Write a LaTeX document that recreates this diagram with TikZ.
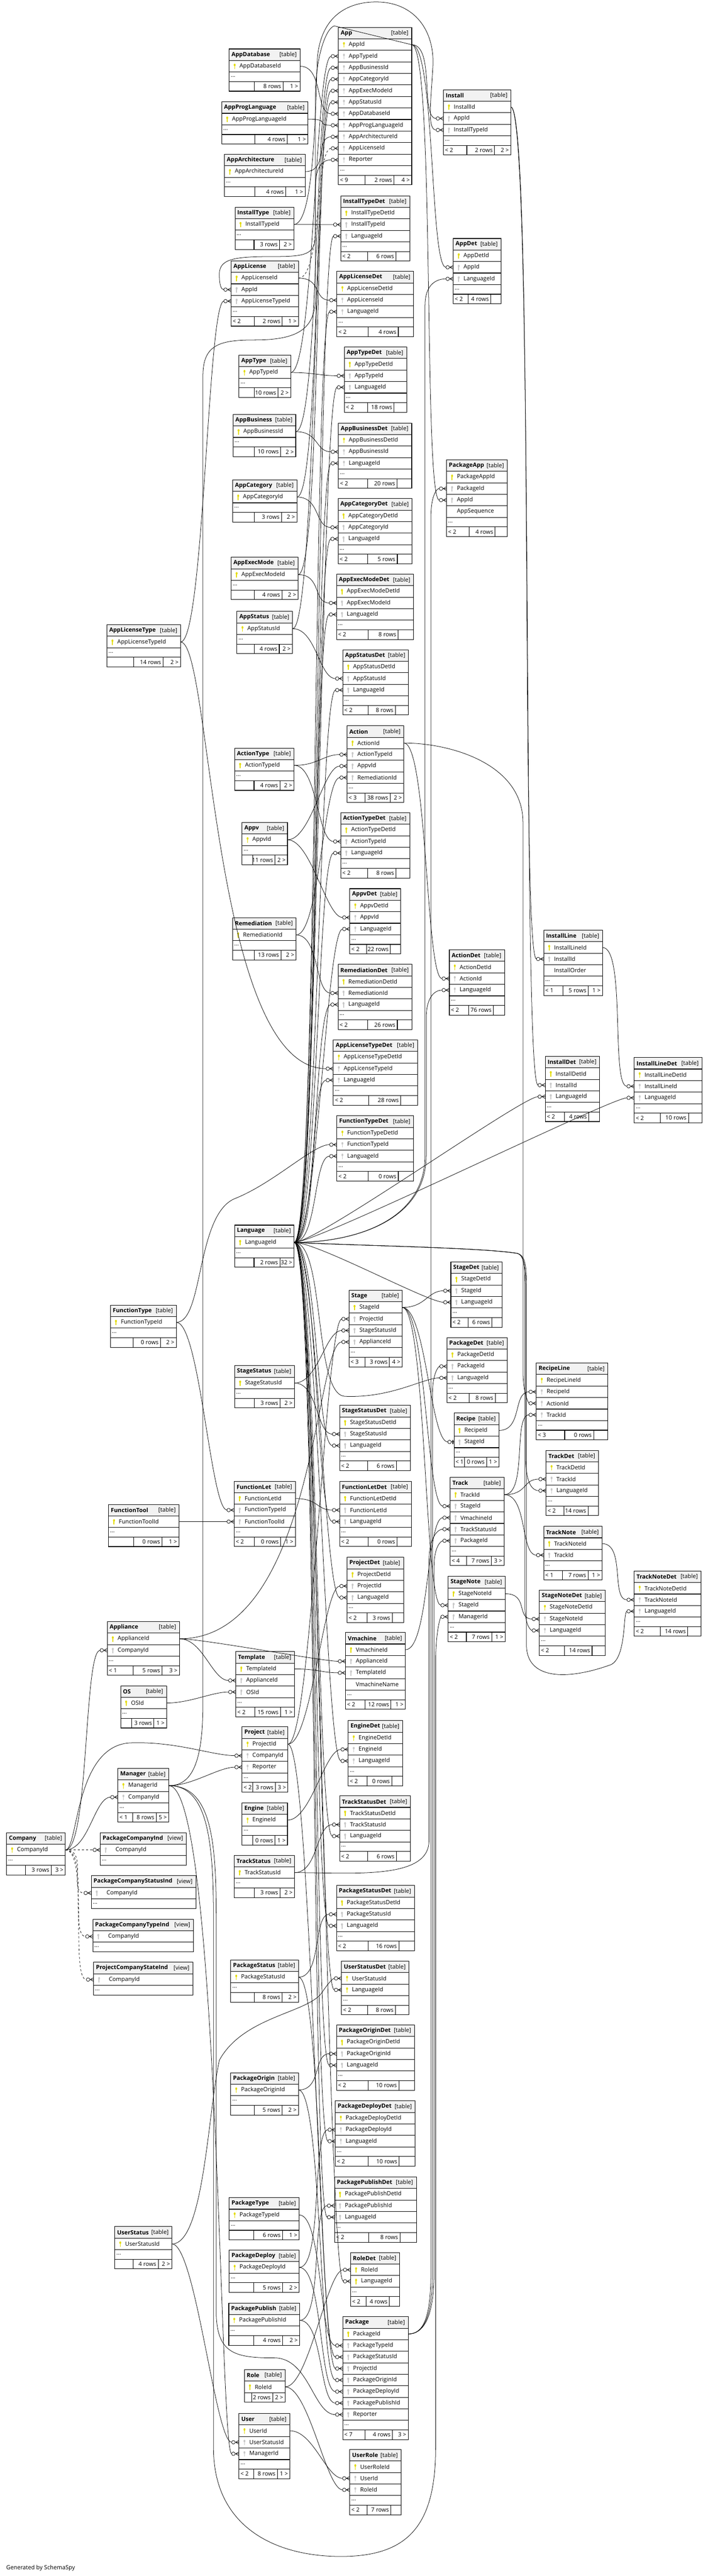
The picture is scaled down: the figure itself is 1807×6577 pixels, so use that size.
\documentclass[tikz,border=0pt]{standalone}
\usepackage{fontspec}
\setmainfont{Open Sans}

\definecolor{keyyel}{RGB}{228,220,0}
\definecolor{keygray}{RGB}{200,200,200}
\definecolor{hdrgray}{RGB}{242,242,242}

\newcommand{\tblfont}{\fontsize{8.4}{10}\selectfont}
\def\kview{view}
\def\knodots{nodots}

\newcommand{\crowmark}[1]{%
  \draw[line width=0.2mm] ([xshift=-1.8mm]#1.west) -- ([yshift=0.95mm]#1.west)
    ([xshift=-1.8mm]#1.west) -- (#1.west)
    ([xshift=-1.8mm]#1.west) -- ([yshift=-0.95mm]#1.west);
  \draw[line width=0.2mm,fill=white] ([xshift=-2.85mm]#1.west) circle (0.9mm);}
\newcommand{\barmark}[1]{%
  \draw[line width=0.2mm] ([xshift=-1.4mm]#1.west) -- (#1.west);
  \draw[line width=0.5mm] ([xshift=-0.45mm,yshift=1mm]#1.west) -- ([xshift=-0.45mm,yshift=-1mm]#1.west);
  \draw[line width=0.2mm,fill=white] ([xshift=-2.3mm]#1.west) circle (0.9mm);}
\newcommand{\keyp}[1]{%
  \draw[keyyel,line width=0.45mm] ([xshift=2.8mm,yshift=0.5mm]#1.west) -- ([xshift=2.8mm,yshift=-1.5mm]#1.west);
  \fill[keyyel] ([xshift=2.8mm,yshift=0.65mm]#1.west) ellipse (0.5mm and 0.65mm);}
\newcommand{\keyg}[1]{%
  \draw[keygray,line width=0.45mm] ([xshift=2.8mm,yshift=0.5mm]#1.west) -- ([xshift=2.8mm,yshift=-1.5mm]#1.west);
  \fill[keygray] ([xshift=2.8mm,yshift=0.65mm]#1.west) ellipse (0.5mm and 0.65mm);}
\newcommand{\keyf}[1]{\keyg{#1}\crowmark{#1}}
\newcommand{\keyu}[1]{\keyg{#1}\barmark{#1}}
\newcommand{\keyk}[1]{\keyp{#1}\crowmark{#1}}
\newcommand{\keyn}[1]{}

% name, x, y, width, kind, columns, footer left/middle/right
\newcommand{\dbtable}[9]{%
  \def\tkind{#5}\def\tright{#9}%
  \ifx\tkind\kview\def\tlab{[view]}\def\tind{7.8mm}\else\def\tlab{[table]}\def\tind{5.3mm}\fi
  \node[hdr, minimum width=#4*0.2mm, anchor=north west] (#1) at (#2,#3) {};
  \node[anchor=west] at ([xshift=1.2mm]#1.west) {\bfseries #1};
  \node[anchor=east] at ([xshift=-1.7mm]#1.east) {\tlab};
  \foreach \k/\c [count=\i] in {#6} {
    \node[col, minimum width=#4*0.2mm, anchor=north west] (#1-\c) at (#2,{#3+29.4*\i}) {};
    \node[anchor=west] at ([xshift=\tind]#1-\c.west) {\c};
    \csname key\k\endcsname{#1-\c}
    \xdef\ncols{\i}
  }
  \pgfmathsetmacro\ydots{#3+29.4*(\ncols+1)}
  \ifx\tkind\knodots
    \let\yfoot\ydots
  \else
    \node[dots, minimum width=#4*0.2mm, anchor=north west] (#1-dots) at (#2,\ydots) {};
    \node[anchor=west] at ([xshift=0.8mm]#1-dots.west) {...};
    \pgfmathsetmacro\yfoot{\ydots+24.5}
  \fi
  \ifx\tkind\kview\else
    \ifx\tright\empty
      \pgfmathsetmacro\wr{max(26,0.2*#4)}
    \else
      \pgfmathsetmacro\wr{max(32,0.24*#4)}
    \fi
    \pgfmathsetmacro\wm{0.25*#4+28}
    \pgfmathsetmacro\wl{#4-\wr-\wm}
    \node[foot, minimum width=\wl*0.2mm, anchor=north west] (#1-fl) at (#2,\yfoot) {};
    \node[foot, minimum width=\wm*0.2mm, anchor=north west] (#1-fm) at (#1-fl.north east) {};
    \node[foot, minimum width=\wr*0.2mm, anchor=north west] (#1-fr) at (#1-fm.north east) {};
    \node[anchor=west] at ([xshift=0.8mm]#1-fl.west) {#7};
    \node[anchor=east] at ([xshift=-1mm]#1-fm.east) {#8};
    \node[anchor=east] at ([xshift=-1mm]#1-fr.east) {#9};
  \fi
}

\begin{document}
\begin{tikzpicture}[x=0.2mm,y=-0.2mm]
    \tikzstyle{every node}=[inner sep=0pt,outer sep=0pt,font=\tblfont]
    \tikzstyle{hdr}=[draw,line width=0.28mm,fill=hdrgray,minimum height=5.88mm]
    \tikzstyle{col}=[draw,line width=0.28mm,fill=white,minimum height=5.88mm]
    \tikzstyle{dots}=[draw,line width=0.28mm,fill=white,minimum height=4.9mm]
    \tikzstyle{foot}=[draw,line width=0.28mm,fill=white,minimum height=4.9mm]
    \tikzstyle{rel}=[line width=0.2mm,shorten >=3.7mm,to path={.. controls +(60,0) and +(-60,0) .. (\tikztotarget)}]
    \fill[white] (0,0) rectangle (1807,6577);
    \useasboundingbox (0,0) rectangle (1807,6577);

\dbtable{AppDatabase}{585}{125}{181}{table}{p/AppDatabaseId}{}{8 rows}{1 >}
\dbtable{AppProgLanguage}{566}{260}{220}{table}{p/AppProgLanguageId}{}{4 rows}{1 >}
\dbtable{AppArchitecture}{573}{394}{206}{table}{p/AppArchitectureId}{}{4 rows}{1 >}
\dbtable{InstallType}{600}{529}{150}{table}{p/InstallTypeId}{}{3 rows}{2 >}
\dbtable{AppLicense}{590}{666}{172}{table}{p/AppLicenseId,f/AppId,f/AppLicenseTypeId}{< 2}{2 rows}{1 >}
\dbtable{AppType}{610}{907}{132}{table}{p/AppTypeId}{}{10 rows}{2 >}
\dbtable{AppBusiness}{595}{1058}{160}{table}{p/AppBusinessId}{}{10 rows}{2 >}
\dbtable{App}{864}{70}{187}{table}{p/AppId,f/AppTypeId,f/AppBusinessId,f/AppCategoryId,f/AppExecModeId,f/AppStatusId,f/AppDatabaseId,f/AppProgLanguageId,f/AppArchitectureId,f/AppLicenseId,f/Reporter}{< 9}{2 rows}{4 >}
\dbtable{InstallTypeDet}{870}{500}{176}{table}{p/InstallTypeDetId,f/InstallTypeId,f/LanguageId}{< 2}{6 rows}{}
\dbtable{AppLicenseDet}{860}{693}{196}{table}{p/AppLicenseDetId,f/AppLicenseId,f/LanguageId}{< 2}{4 rows}{}
\dbtable{AppTypeDet}{879}{886}{159}{table}{p/AppTypeDetId,f/AppTypeId,f/LanguageId}{< 2}{18 rows}{}
\dbtable{AppBusinessDet}{864}{1080}{187}{table}{p/AppBusinessDetId,f/AppBusinessId,f/LanguageId}{< 2}{20 rows}{}
\dbtable{Install}{1132}{229}{172}{table}{p/InstallId,f/AppId,f/InstallTypeId}{< 2}{2 rows}{2 >}
\dbtable{AppDet}{1157}{609}{122}{table}{p/AppDetId,f/AppId,f/LanguageId}{< 2}{4 rows}{}
\dbtable{PackageApp}{1140}{1174}{155}{table}{p/PackageAppId,f/PackageId,f/AppId,n/AppSequence}{< 2}{4 rows}{}
\dbtable{AppCategory}{594}{1225}{164}{table}{p/AppCategoryId}{}{3 rows}{2 >}
\dbtable{AppCategoryDet}{863}{1273}{189}{table}{p/AppCategoryDetId,f/AppCategoryId,f/LanguageId}{< 2}{5 rows}{}
\dbtable{AppExecMode}{590}{1423}{171}{table}{p/AppExecModeId}{}{4 rows}{2 >}
\dbtable{AppExecModeDet}{859}{1466}{197}{table}{p/AppExecModeDetId,f/AppExecModeId,f/LanguageId}{< 2}{8 rows}{}
\dbtable{AppStatus}{605}{1561}{142}{table}{p/AppStatusId}{}{4 rows}{2 >}
\dbtable{AppStatusDet}{875}{1659}{168}{table}{p/AppStatusDetId,f/AppStatusId,f/LanguageId}{< 2}{8 rows}{}
\dbtable{AppLicenseType}{273}{1595}{188}{table}{p/AppLicenseTypeId}{}{14 rows}{2 >}
\dbtable{Action}{886}{1853}{145}{table}{p/ActionId,f/ActionTypeId,f/AppvId,f/RemediationId}{< 3}{38 rows}{2 >}
\dbtable{ActionType}{599}{1910}{152}{table}{p/ActionTypeId}{}{4 rows}{2 >}
\dbtable{ActionTypeDet}{870}{2075}{176}{table}{p/ActionTypeDetId,f/ActionTypeId,f/LanguageId}{< 2}{8 rows}{}
\dbtable{Appv}{618}{2100}{116}{table}{p/AppvId}{}{11 rows}{2 >}
\dbtable{AppvDet}{893}{2269}{130}{table}{p/AppvDetId,f/AppvId,f/LanguageId}{< 2}{22 rows}{}
\dbtable{Remediation}{594}{2343}{162}{table}{p/RemediationId}{}{13 rows}{2 >}
\dbtable{RemediationDet}{863}{2462}{189}{table}{p/RemediationDetId,f/RemediationId,f/LanguageId}{< 2}{26 rows}{}
\dbtable{AppLicenseTypeDet}{851}{2655}{215}{table}{p/AppLicenseTypeDetId,f/AppLicenseTypeId,f/LanguageId}{< 2}{28 rows}{}
\dbtable{FunctionTypeDet}{860}{2849}{196}{table}{p/FunctionTypeDetId,f/FunctionTypeId,f/LanguageId}{< 2}{0 rows}{}
\dbtable{Language}{599}{3128}{152}{table}{p/LanguageId}{}{2 rows}{32 >}
\dbtable{ActionDet}{1147}{2425}{141}{table}{p/ActionDetId,f/ActionId,f/LanguageId}{< 2}{76 rows}{}
\dbtable{InstallLine}{1388}{2375}{150}{table}{p/InstallLineId,f/InstallId,n/InstallOrder}{< 1}{5 rows}{1 >}
\dbtable{InstallDet}{1392}{2697}{139}{table}{p/InstallDetId,f/InstallId,f/LanguageId}{< 2}{4 rows}{}
\dbtable{InstallLineDet}{1619}{2700}{173}{table}{p/InstallLineDetId,f/InstallLineId,f/LanguageId}{< 2}{10 rows}{}
\dbtable{StageDet}{1151}{3222}{131}{table}{p/StageDetId,f/StageId,f/LanguageId}{< 2}{6 rows}{}
\dbtable{Stage}{891}{3294}{136}{table}{p/StageId,f/ProjectId,f/StageStatusId,f/ApplianceId}{< 3}{3 rows}{4 >}
\dbtable{FunctionType}{282}{3332}{168}{table}{p/FunctionTypeId}{}{0 rows}{2 >}
\dbtable{StageStatus}{599}{3487}{153}{table}{p/StageStatusId}{}{3 rows}{2 >}
\dbtable{PackageDet}{1141}{3415}{154}{table}{p/PackageDetId,f/PackageId,f/LanguageId}{< 2}{8 rows}{}
\dbtable{RecipeLine}{1369}{3480}{183}{table}{p/RecipeLineId,f/RecipeId,f/ActionId,f/TrackId}{< 3}{0 rows}{}
\dbtable{StageStatusDet}{867}{3588}{181}{table}{p/StageStatusDetId,f/StageStatusId,f/LanguageId}{< 2}{6 rows}{}
\dbtable{Recipe}{1159}{3608}{115}{table}{p/RecipeId,u/StageId}{< 1}{0 rows}{1 >}
\dbtable{TrackDet}{1394}{3703}{134}{table}{p/TrackDetId,f/TrackId,f/LanguageId}{< 2}{14 rows}{}
\dbtable{Track}{1149}{3772}{138}{table}{p/TrackId,f/StageId,f/VmachineId,f/TrackStatusId,f/PackageId}{< 4}{7 rows}{3 >}
\dbtable{FunctionLet}{598}{3782}{156}{table}{p/FunctionLetId,f/FunctionTypeId,f/FunctionToolId}{< 2}{0 rows}{1 >}
\dbtable{FunctionLetDet}{867}{3782}{183}{table}{p/FunctionLetDetId,f/FunctionLetId,f/LanguageId}{< 2}{0 rows}{}
\dbtable{FunctionTool}{277}{3841}{180}{table}{p/FunctionToolId}{}{0 rows}{1 >}
\dbtable{TrackNote}{1388}{3897}{149}{table}{p/TrackNoteId,f/TrackId}{< 1}{7 rows}{1 >}
\dbtable{ProjectDet}{886}{3976}{144}{table}{p/ProjectDetId,f/ProjectId,f/LanguageId}{< 2}{3 rows}{}
\dbtable{StageNote}{1144}{4025}{146}{table}{p/StageNoteId,f/StageId,f/ManagerId}{< 2}{7 rows}{1 >}
\dbtable{TrackNoteDet}{1619}{4011}{171}{table}{p/TrackNoteDetId,f/TrackNoteId,f/LanguageId}{< 2}{14 rows}{}
\dbtable{StageNoteDet}{1377}{4060}{168}{table}{p/StageNoteDetId,f/StageNoteId,f/LanguageId}{< 2}{14 rows}{}
\dbtable{Appliance}{274}{4140}{184}{table}{p/ApplianceId,f/CompanyId}{< 1}{5 rows}{3 >}
\dbtable{Vmachine}{882}{4168}{153}{table}{p/VmachineId,f/ApplianceId,f/TemplateId,n/VmachineName}{< 2}{12 rows}{1 >}
\dbtable{Template}{602}{4217}{150}{table}{p/TemplateId,f/ApplianceId,f/OSId}{< 2}{15 rows}{1 >}
\dbtable{OS}{308}{4304}{117}{table}{p/OSId}{}{3 rows}{1 >}
\dbtable{EngineDet}{889}{4393}{139}{table}{p/EngineDetId,f/EngineId,f/LanguageId}{< 2}{0 rows}{}
\dbtable{Project}{618}{4409}{117}{table}{p/ProjectId,f/CompanyId,f/Reporter}{< 2}{3 rows}{3 >}
\dbtable{Manager}{301}{4515}{130}{table}{p/ManagerId,f/CompanyId}{< 1}{8 rows}{5 >}
\dbtable{Engine}{618}{4603}{116}{table}{p/EngineId}{}{0 rows}{1 >}
\dbtable{TrackStatusDet}{867}{4585}{181}{table}{p/TrackStatusDetId,f/TrackStatusId,f/LanguageId}{< 2}{6 rows}{}
\dbtable{Company}{17}{4679}{150}{table}{p/CompanyId}{}{3 rows}{3 >}
\dbtable{PackageCompanyInd}{256}{4679}{220}{view}{f/CompanyId}{}{}{}
\dbtable{TrackStatus}{598}{4737}{154}{table}{p/TrackStatusId}{}{3 rows}{2 >}
\dbtable{PackageCompanyStatusInd}{233}{4789}{267}{view}{f/CompanyId}{}{}{}
\dbtable{PackageStatusDet}{859}{4814}{199}{table}{p/PackageStatusDetId,f/PackageStatusId,f/LanguageId}{< 2}{16 rows}{}
\dbtable{PackageCompanyTypeInd}{237}{4900}{257}{view}{f/CompanyId}{}{}{}
\dbtable{PackageStatus}{589}{5004}{173}{table}{p/PackageStatusId}{}{8 rows}{2 >}
\dbtable{UserStatusDet}{872}{5007}{172}{table}{k/UserStatusId,k/LanguageId}{< 2}{8 rows}{}
\dbtable{ProjectCompanyStateInd}{239}{5010}{253}{view}{f/CompanyId}{}{}{}
\dbtable{PackageOriginDet}{859}{5170}{199}{table}{p/PackageOriginDetId,f/PackageOriginId,f/LanguageId}{< 2}{10 rows}{}
\dbtable{PackageOrigin}{589}{5292}{173}{table}{p/PackageOriginId}{}{5 rows}{2 >}
\dbtable{PackageDeployDet}{856}{5364}{204}{table}{p/PackageDeployDetId,f/PackageDeployId,f/LanguageId}{< 2}{10 rows}{}
\dbtable{PackagePublishDet}{854}{5558}{209}{table}{p/PackagePublishDetId,f/PackagePublishId,f/LanguageId}{< 2}{8 rows}{}
\dbtable{PackageType}{585}{5611}{179}{table}{p/PackageTypeId}{}{6 rows}{1 >}
\dbtable{UserStatus}{293}{5685}{146}{table}{p/UserStatusId}{}{4 rows}{2 >}
\dbtable{PackageDeploy}{585}{5745}{179}{table}{p/PackageDeployId}{}{5 rows}{2 >}
\dbtable{RoleDet}{895}{5751}{125}{table}{k/RoleId,k/LanguageId}{< 2}{4 rows}{}
\dbtable{PackagePublish}{584}{5880}{181}{table}{p/PackagePublishId}{}{4 rows}{2 >}
\dbtable{Package}{875}{5915}{167}{table}{p/PackageId,f/PackageTypeId,f/PackageStatusId,f/ProjectId,f/PackageOriginId,f/PackageDeployId,f/PackagePublishId,f/Reporter}{< 7}{4 rows}{3 >}
\dbtable{Role}{624}{6050}{104}{nodots}{p/RoleId}{}{2 rows}{2 >}
\dbtable{User}{610}{6162}{130}{table}{p/UserId,f/UserStatusId,f/ManagerId}{< 2}{8 rows}{1 >}
\dbtable{UserRole}{893}{6254}{131}{table}{p/UserRoleId,f/UserId,f/RoleId}{< 2}{7 rows}{}
\node[anchor=west] (gen) at (16,6557) {Generated by SchemaSpy};

\draw[rel] (AppType-AppTypeId.east) to (App-AppTypeId.west);
\draw[rel] (AppBusiness-AppBusinessId.east) to (App-AppBusinessId.west);
\draw[rel] (AppCategory-AppCategoryId.east) to (App-AppCategoryId.west);
\draw[rel] (AppExecMode-AppExecModeId.east) to (App-AppExecModeId.west);
\draw[rel] (AppStatus-AppStatusId.east) to (App-AppStatusId.west);
\draw[rel] (AppDatabase-AppDatabaseId.east) to (App-AppDatabaseId.west);
\draw[rel] (AppProgLanguage-AppProgLanguageId.east) to (App-AppProgLanguageId.west);
\draw[rel] (AppArchitecture-AppArchitectureId.east) to (App-AppArchitectureId.west);
\draw[rel,dashed] (AppLicense-AppLicenseId.east) to (App-AppLicenseId.west);
\draw[rel] (Manager-ManagerId.east) .. controls (490,4559) and (518,4500) .. (518,4350) -- (518,960) .. controls (518,880) and (560,868) .. (650,868) .. controls (760,868) and (805,840) .. (805,760) -- (805,480) .. controls (805,430) and (820,408) .. (App-Reporter.west);
\draw[rel] (App-AppId.east) to (Install-AppId.west);
\draw[rel] (App-AppId.east) to (AppDet-AppId.west);
\draw[rel] (App-AppId.east) to (PackageApp-AppId.west);
\draw[rel] (App-AppId.east) -- (853,66) .. controls (830,75) and (805,150) .. (805,250) -- (805,600) .. controls (805,650) and (780,655) .. (700,655) .. controls (600,655) and (560,660) .. (560,700) .. controls (560,730) and (565,739.5) .. (AppLicense-AppId.west);
\draw[rel] (InstallType-InstallTypeId.east) .. controls (800,573) and (805,300) .. (810,150) .. controls (820,30) and (900,5) .. (960,5) .. controls (1060,5) and (1110,80) .. (1105,170) .. controls (1100,260) and (1090,332) .. (Install-InstallTypeId.west);
\draw[rel] (InstallType-InstallTypeId.east) to (InstallTypeDet-InstallTypeId.west);
\draw[rel] (AppLicense-AppLicenseId.east) to (AppLicenseDet-AppLicenseId.west);
\draw[rel] (AppLicenseType-AppLicenseTypeId.east) to (AppLicense-AppLicenseTypeId.west);
\draw[rel] (AppLicenseType-AppLicenseTypeId.east) .. controls (540,1639) and (540,2728) .. (AppLicenseTypeDet-AppLicenseTypeId.west);
\draw[rel] (AppType-AppTypeId.east) to (AppTypeDet-AppTypeId.west);
\draw[rel] (AppBusiness-AppBusinessId.east) to (AppBusinessDet-AppBusinessId.west);
\draw[rel] (AppCategory-AppCategoryId.east) to (AppCategoryDet-AppCategoryId.west);
\draw[rel] (AppExecMode-AppExecModeId.east) to (AppExecModeDet-AppExecModeId.west);
\draw[rel] (AppStatus-AppStatusId.east) to (AppStatusDet-AppStatusId.west);

\draw[rel] (ActionType-ActionTypeId.east) to (Action-ActionTypeId.west);
\draw[rel] (ActionType-ActionTypeId.east) to (ActionTypeDet-ActionTypeId.west);
\draw[rel] (Appv-AppvId.east) to (Action-AppvId.west);
\draw[rel] (Appv-AppvId.east) to (AppvDet-AppvId.west);
\draw[rel] (Remediation-RemediationId.east) to (Action-RemediationId.west);
\draw[rel] (Remediation-RemediationId.east) to (RemediationDet-RemediationId.west);
\draw[rel] (Action-ActionId.east) to (ActionDet-ActionId.west);
\draw[rel] (Action-ActionId.east) .. controls (1150,1897) and (1335,1950) .. (1335,2100) -- (1335,3500) .. controls (1335,3560) and (1350,3583) .. (RecipeLine-ActionId.west);
\draw[rel] (Install-InstallId.east) to (InstallLine-InstallId.west);
\draw[rel] (Install-InstallId.east) to (InstallDet-InstallId.west);
\draw[rel] (InstallLine-InstallLineId.east) to (InstallLineDet-InstallLineId.west);

\draw[rel] (FunctionType-FunctionTypeId.east) .. controls (520,3376) and (500,3100) .. (600,3060) .. controls (700,3020) and (800,2922) .. (FunctionTypeDet-FunctionTypeId.west);
\draw[rel] (FunctionType-FunctionTypeId.east) to (FunctionLet-FunctionTypeId.west);
\draw[rel] (FunctionTool-FunctionToolId.east) to (FunctionLet-FunctionToolId.west);
\draw[rel] (FunctionLet-FunctionLetId.east) to (FunctionLetDet-FunctionLetId.west);
\draw[rel] (StageStatus-StageStatusId.east) to (Stage-StageStatusId.west);
\draw[rel] (StageStatus-StageStatusId.east) to (StageStatusDet-StageStatusId.west);
\draw[rel] (Project-ProjectId.east) to (Stage-ProjectId.west);
\draw[rel] (Appliance-ApplianceId.east) .. controls (805,4184) and (805,3426) .. (Stage-ApplianceId.west);
\draw[rel] (Stage-StageId.east) to (StageDet-StageId.west);
\draw[rel,shorten >=3.2mm] (Stage-StageId.east) to (Recipe-StageId.west);
\draw[rel] (Stage-StageId.east) to (Track-StageId.west);
\draw[rel] (Stage-StageId.east) to (StageNote-StageId.west);
\draw[rel] (Recipe-RecipeId.east) to (RecipeLine-RecipeId.west);
\draw[rel] (Track-TrackId.east) to (RecipeLine-TrackId.west);
\draw[rel] (Track-TrackId.east) to (TrackDet-TrackId.west);
\draw[rel] (Track-TrackId.east) to (TrackNote-TrackId.west);
\draw[rel] (TrackNote-TrackNoteId.east) to (TrackNoteDet-TrackNoteId.west);
\draw[rel] (StageNote-StageNoteId.east) to (StageNoteDet-StageNoteId.west);
\draw[rel] (Vmachine-VmachineId.east) to (Track-VmachineId.west);
\draw[rel] (TrackStatus-TrackStatusId.east) .. controls (900,4781) and (1095,4800) .. (1095,4700) -- (1095,3990) .. controls (1095,3920) and (1120,3904) .. (Track-TrackStatusId.west);
\draw[rel] (Package-PackageId.east) .. controls (1080,5959) and (1100,5920) .. (1100,5800) -- (1100,1320) .. controls (1100,1265) and (1115,1247) .. (PackageApp-PackageId.west);
\draw[rel] (Package-PackageId.east) .. controls (1080,5959) and (1104,5920) .. (1104,5800) -- (1104,3560) .. controls (1104,3505) and (1120,3488) .. (PackageDet-PackageId.west);
\draw[rel] (Package-PackageId.east) .. controls (1080,5959) and (1108,5920) .. (1108,5800) -- (1108,4000) .. controls (1108,3950) and (1125,3934) .. (Track-PackageId.west);

\draw[rel] (Appliance-ApplianceId.east) to (Vmachine-ApplianceId.west);
\draw[rel] (Appliance-ApplianceId.east) to (Template-ApplianceId.west);
\draw[rel] (OS-OSId.east) to (Template-OSId.west);
\draw[rel] (Template-TemplateId.east) to (Vmachine-TemplateId.west);
\draw[rel] (Company-CompanyId.east) to (Appliance-CompanyId.west);
\draw[rel] (Company-CompanyId.east) to (Manager-CompanyId.west);
\draw[rel] (Company-CompanyId.east) .. controls (200,4723) and (190,4460) .. (330,4450) .. controls (450,4445) and (540,4482) .. (Project-CompanyId.west);
\draw[rel,dashed] (Company-CompanyId.east) to (PackageCompanyInd-CompanyId.west);
\draw[rel,dashed] (Company-CompanyId.east) to (PackageCompanyStatusInd-CompanyId.west);
\draw[rel,dashed] (Company-CompanyId.east) to (PackageCompanyTypeInd-CompanyId.west);
\draw[rel,dashed] (Company-CompanyId.east) to (ProjectCompanyStateInd-CompanyId.west);
\draw[rel] (Manager-ManagerId.east) to (Project-Reporter.west);
\draw[rel] (Manager-ManagerId.east) .. controls (560,4559) and (560,6265) .. (User-ManagerId.west);
\draw[rel] (Manager-ManagerId.east) .. controls (540,4559) and (552,4700) .. (552,4900) -- (552,5900) .. controls (552,6010) and (600,6020) .. (700,6020) .. controls (790,6020) and (800,6165) .. (Package-Reporter.west);
\draw[rel] (Manager-ManagerId.east) .. controls (530,4559) and (545,4700) .. (545,4900) -- (545,6250) .. controls (545,6450) and (700,6527) .. (870,6527) .. controls (1040,6527) and (1112,6450) .. (1112,6250) -- (1112,4250) .. controls (1112,4160) and (1125,4128) .. (StageNote-ManagerId.west);
\draw[rel] (Project-ProjectId.east) to (ProjectDet-ProjectId.west);
\draw[rel] (Project-ProjectId.east) to (Package-ProjectId.west);
\draw[rel] (Engine-EngineId.east) to (EngineDet-EngineId.west);
\draw[rel] (TrackStatus-TrackStatusId.east) to (TrackStatusDet-TrackStatusId.west);

\draw[rel] (PackageType-PackageTypeId.east) to (Package-PackageTypeId.west);
\draw[rel] (PackageStatus-PackageStatusId.east) to (Package-PackageStatusId.west);
\draw[rel] (PackageStatus-PackageStatusId.east) to (PackageStatusDet-PackageStatusId.west);
\draw[rel] (PackageOrigin-PackageOriginId.east) to (Package-PackageOriginId.west);
\draw[rel] (PackageOrigin-PackageOriginId.east) to (PackageOriginDet-PackageOriginId.west);
\draw[rel] (PackageDeploy-PackageDeployId.east) to (Package-PackageDeployId.west);
\draw[rel] (PackageDeploy-PackageDeployId.east) to (PackageDeployDet-PackageDeployId.west);
\draw[rel] (PackagePublish-PackagePublishId.east) to (Package-PackagePublishId.west);
\draw[rel] (PackagePublish-PackagePublishId.east) to (PackagePublishDet-PackagePublishId.west);
\draw[rel] (UserStatus-UserStatusId.east) .. controls (520,5729) and (530,5400) .. (560,5260) .. controls (620,5150) and (780,5140) .. (820,5090) .. controls (840,5060) and (850,5051) .. (UserStatusDet-UserStatusId.west);
\draw[rel] (UserStatus-UserStatusId.east) to (User-UserStatusId.west);
\draw[rel] (Role-RoleId.east) to (RoleDet-RoleId.west);
\draw[rel] (Role-RoleId.east) to (UserRole-RoleId.west);
\draw[rel] (User-UserId.east) to (UserRole-UserId.west);

\draw[rel] (Language-LanguageId.east) to (InstallTypeDet-LanguageId.west);
\draw[rel] (Language-LanguageId.east) to (AppLicenseDet-LanguageId.west);
\draw[rel] (Language-LanguageId.east) to (AppTypeDet-LanguageId.west);
\draw[rel] (Language-LanguageId.east) to (AppBusinessDet-LanguageId.west);
\draw[rel] (Language-LanguageId.east) to (AppCategoryDet-LanguageId.west);
\draw[rel] (Language-LanguageId.east) to (AppExecModeDet-LanguageId.west);
\draw[rel] (Language-LanguageId.east) to (AppStatusDet-LanguageId.west);
\draw[rel] (Language-LanguageId.east) to (ActionTypeDet-LanguageId.west);
\draw[rel] (Language-LanguageId.east) to (AppvDet-LanguageId.west);
\draw[rel] (Language-LanguageId.east) to (RemediationDet-LanguageId.west);
\draw[rel] (Language-LanguageId.east) to (AppLicenseTypeDet-LanguageId.west);
\draw[rel] (Language-LanguageId.east) to (FunctionTypeDet-LanguageId.west);
\draw[rel] (Language-LanguageId.east) to (InstallDet-LanguageId.west);
\draw[rel] (Language-LanguageId.east) to (InstallLineDet-LanguageId.west);
\draw[rel] (Language-LanguageId.east) to (StageDet-LanguageId.west);
\draw[rel] (Language-LanguageId.east) to (StageStatusDet-LanguageId.west);
\draw[rel] (Language-LanguageId.east) to (FunctionLetDet-LanguageId.west);
\draw[rel] (Language-LanguageId.east) to (ProjectDet-LanguageId.west);
\draw[rel] (Language-LanguageId.east) to (EngineDet-LanguageId.west);
\draw[rel] (Language-LanguageId.east) to (TrackStatusDet-LanguageId.west);
\draw[rel] (Language-LanguageId.east) to (PackageStatusDet-LanguageId.west);
\draw[rel] (Language-LanguageId.east) to (UserStatusDet-LanguageId.west);
\draw[rel] (Language-LanguageId.east) to (PackageOriginDet-LanguageId.west);
\draw[rel] (Language-LanguageId.east) to (PackageDeployDet-LanguageId.west);
\draw[rel] (Language-LanguageId.east) to (PackagePublishDet-LanguageId.west);
\draw[rel] (Language-LanguageId.east) to (RoleDet-LanguageId.west);
\draw[rel] (Language-LanguageId.east) .. controls (900,3172) and (1085,3120) .. (1085,2950) -- (1085,780) .. controls (1085,730) and (1110,712) .. (AppDet-LanguageId.west);
\draw[rel] (Language-LanguageId.east) .. controls (900,3172) and (1088,3120) .. (1088,2950) -- (1088,2600) .. controls (1088,2545) and (1110,2528) .. (ActionDet-LanguageId.west);
\draw[rel] (Language-LanguageId.east) .. controls (830,3172) and (800,3560) .. (880,3565) .. controls (1000,3570) and (1080,3518) .. (PackageDet-LanguageId.west);
\draw[rel] (Language-LanguageId.east) .. controls (900,3180) and (1230,3185) .. (1320,3200) .. controls (1340,3205) and (1342,3240) .. (1342,3300) -- (1342,3720) .. controls (1342,3790) and (1360,3806) .. (TrackDet-LanguageId.west);
\draw[rel] (Language-LanguageId.east) .. controls (900,3180) and (1230,3185) .. (1320,3200) .. controls (1340,3205) and (1340,3240) .. (1340,3300) -- (1340,4100) .. controls (1340,4150) and (1355,4163) .. (StageNoteDet-LanguageId.west);
\draw[rel] (Language-LanguageId.east) .. controls (900,3180) and (1230,3185) .. (1320,3200) .. controls (1344,3205) and (1344,3240) .. (1344,3300) -- (1344,4200) .. controls (1344,4290) and (1450,4290) .. (1560,4250) .. controls (1600,4230) and (1590,4114) .. (TrackNoteDet-LanguageId.west);
\end{tikzpicture}
\end{document}
